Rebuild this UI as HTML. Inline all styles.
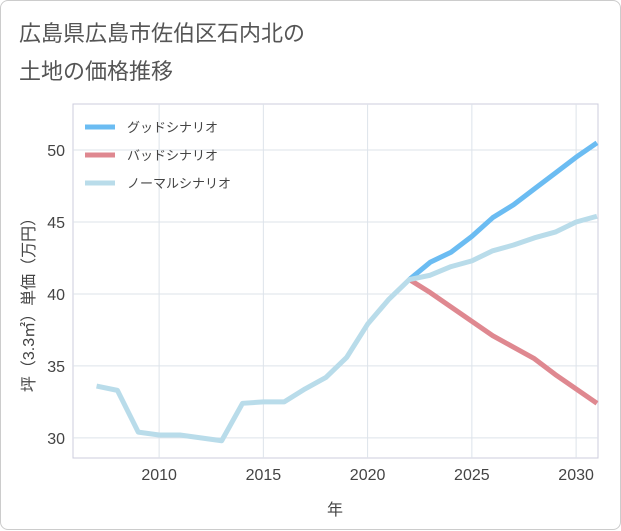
<!DOCTYPE html>
<html><head><meta charset="utf-8"><style>
body{margin:0;background:#fff;font-family:"Liberation Sans","Noto Sans CJK JP",sans-serif}
#wrap{position:relative;width:621px;height:530px;background:#fff;border:1px solid #ccc;box-sizing:border-box;border-radius:8px}
</style></head><body>
<div id="wrap">
<svg id="c" width="621" height="530" style="position:absolute;left:0;top:0">
<text x="18" y="40" font-size="22" fill="#555" font-family="Liberation Sans, Noto Sans CJK JP, sans-serif">広島県広島市佐伯区石内北の</text>
<text x="18" y="78" font-size="22" fill="#555" font-family="Liberation Sans, Noto Sans CJK JP, sans-serif">土地の価格推移</text>
<g id="grid"></g><g id="series"></g><g id="axes"></g>
<text x="334" y="514" font-size="16" fill="#444" text-anchor="middle" font-family="Liberation Sans, Noto Sans CJK JP, sans-serif">年</text>
<text transform="translate(33,300) rotate(-90)" font-size="16" fill="#444" text-anchor="middle" font-family="Liberation Sans, Noto Sans CJK JP, sans-serif">坪（3.3㎡）単価（万円）</text>
<g id="legend"></g>
</svg></div>
<script>
const years=[2007,2008,2009,2010,2011,2012,2013,2014,2015,2016,2017,2018,2019,2020,2021,2022,2023,2024,2025,2026,2027,2028,2029,2030,2031];
const normalVals=[33.6,33.3,30.4,30.2,30.2,30.0,29.8,32.4,32.5,32.5,33.4,34.2,35.6,37.9,39.6,41.0,41.3,41.9,42.3,43.0,43.4,43.9,44.3,45.0,45.4];
const futureYears=[2022,2023,2024,2025,2026,2027,2028,2029,2030,2031];
const goodVals=[41.0,42.2,42.9,44.0,45.3,46.2,47.3,48.4,49.5,50.5];
const badVals=[41.0,40.1,39.1,38.1,37.1,36.3,35.5,34.4,33.4,32.4];
const xTicks=[2010,2015,2020,2025,2030];
const yTicks=[30,35,40,45,50];
const seriesNames=["グッドシナリオ","バッドシナリオ","ノーマルシナリオ"];
const L=72,R=597,T=103,B=457,x0=2005.87,x1=2031.05,y0=28.6,y1=53.2;
const X=v=>L+(v-x0)/(x1-x0)*(R-L), Y=v=>B-(v-y0)/(y1-y0)*(B-T);
const NS="http://www.w3.org/2000/svg";
function mk(p,tag,a){const e=document.createElementNS(NS,tag);for(const k in a)e.setAttribute(k,a[k]);document.getElementById(p).appendChild(e);return e;}
let e=mk('grid','rect',{x:L,y:T,width:R-L,height:B-T,fill:'none',stroke:'#ccd',"stroke-width":1});


xTicks.forEach(t=>{let l=mk('grid','line',{x1:X(t),x2:X(t),y1:T,y2:B,stroke:'#dde3ea'});


let s=mk('axes','text',{x:X(t),y:B+22,"font-size":16,fill:'#444',"text-anchor":'middle'});s.textContent=t;

});
yTicks.forEach(t=>{let l=mk('grid','line',{x1:L,x2:R,y1:Y(t),y2:Y(t),stroke:'#dde3ea'});


let s=mk('axes','text',{x:L-8,y:Y(t)+6,"font-size":16,fill:'#444',"text-anchor":'end'});s.textContent=t;

});
function line(xs,vs,col,name){let p=mk('series','polyline',{points:xs.map((y,i)=>X(y)+','+Y(vs[i])).join(' '),fill:'none',stroke:col,"stroke-width":5,"stroke-linejoin":'round'});

}
line(futureYears,goodVals,'#6bbcf2','good-scenario-line');
line(futureYears,badVals,'#df8890','bad-scenario-line');
line(years,normalVals,'#b9dcea','normal-scenario-line');
const cols=['#6bbcf2','#df8890','#b9dcea'];
seriesNames.forEach((n,i)=>{let y=126+i*28;
let l=mk('legend','line',{x1:84,x2:114,y1:y,y2:y,stroke:cols[i],"stroke-width":5});


let s=mk('legend','text',{x:126,y:y+5,"font-size":13,fill:'#444'});s.textContent=n;

});
</script></body></html>
